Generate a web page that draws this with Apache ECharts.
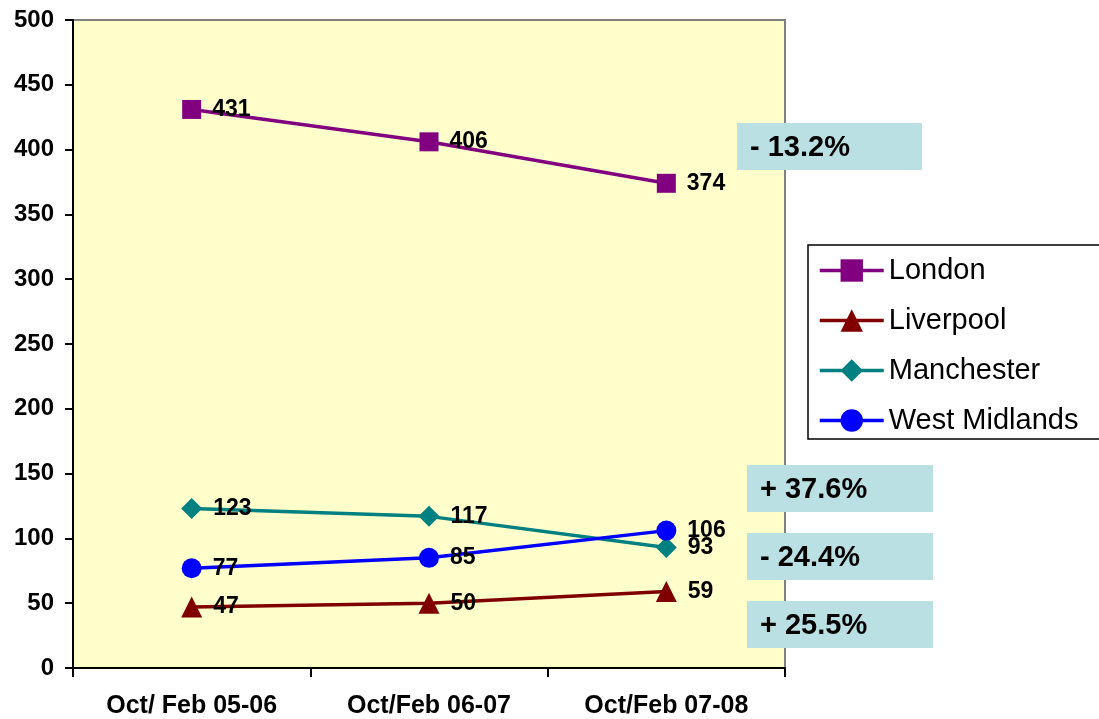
<!DOCTYPE html>
<html><head><meta charset="utf-8">
<script src="https://cdn.jsdelivr.net/npm/echarts@6/dist/echarts.min.js"></script>
<style>html,body{margin:0;padding:0;background:#fff}#c{width:1099px;height:719px}</style>
</head><body><div id="c"></div>
<script>
const categories = ['Oct/ Feb 05-06', 'Oct/Feb 06-07', 'Oct/Feb 07-08'];
const london = [431, 406, 374];
const liverpool = [47, 50, 59];
const manchester = [123, 117, 93];
const westMidlands = [77, 85, 106];
const yTicks = {min: 0, max: 500, interval: 50};
const changeLabels = ['- 13.2%', '+ 37.6%', '- 24.4%', '+ 25.5%'];

const chart = echarts.init(document.getElementById('c'), null, {renderer: 'canvas'});
const FONT = 'Liberation Sans, Arial, sans-serif';
function mk(name, data, color, symbol, size) {
  return {
    name, type: 'line', data, symbol, symbolSize: size,
    lineStyle: {color, width: 3.5}, itemStyle: {color},
    label: {show: true, position: 'right', distance: 11, color: '#000', fontWeight: 'bold', fontSize: 23, fontFamily: FONT},
    emphasis: {disabled: true}, animation: false
  };
}
const boxStyle = {fill: '#BBE0E3'};
function box(x, y, w, h, t) {
  return {type: 'group', left: x, top: y, children: [
    {type: 'rect', shape: {x: 0, y: 0, width: w, height: h}, style: boxStyle},
    {type: 'text', x: 13, y: h / 2 + 1, style: {text: t, fontSize: 29, fontWeight: 'bold', fontFamily: FONT, fill: '#000', verticalAlign: 'middle'}}
  ]};
}
chart.setOption({
  animation: false,
  grid: {left: 73, right: 314, top: 20, bottom: 51, show: true, backgroundColor: '#FFFFCC', borderColor: '#808080', borderWidth: 2},
  xAxis: {type: 'category', data: categories, boundaryGap: true,
    axisLine: {lineStyle: {color: '#000', width: 2}},
    axisTick: {show: true, length: 9, lineStyle: {color: '#000', width: 2}},
    axisLabel: {color: '#000', fontWeight: 'bold', fontSize: 25, fontFamily: FONT, margin: 26},
    splitLine: {show: false}},
  yAxis: {type: 'value', min: yTicks.min, max: yTicks.max, interval: yTicks.interval,
    axisLine: {show: true, lineStyle: {color: '#000', width: 2}},
    axisTick: {show: true, length: 8, lineStyle: {color: '#000', width: 2}},
    axisLabel: {color: '#000', fontWeight: 'bold', fontSize: 24, fontFamily: FONT, margin: 19},
    splitLine: {show: false}},
  legend: {orient: 'vertical', left: 808, top: 245, width: 291,
    borderColor: '#000', borderWidth: 1.5, padding: [11, 40, 4, 10], itemGap: 21,
    itemWidth: 64, itemHeight: 28, lineStyle: {width: 3.5},
    textStyle: {fontSize: 29, fontFamily: FONT, color: '#000'},
    data: ['London', 'Liverpool', 'Manchester', 'West Midlands']},
  series: [
    mk('London', london, '#800080', 'rect', 19),
    mk('Liverpool', liverpool, '#800000', 'triangle', 21),
    mk('Manchester', manchester, '#008080', 'diamond', 21),
    mk('West Midlands', westMidlands, '#0000FF', 'circle', 20)
  ],
  graphic: [
    box(737, 123, 185, 47, changeLabels[0]),
    box(747, 465, 186, 47, changeLabels[1]),
    box(747, 533, 186, 47, changeLabels[2]),
    box(747, 601, 186, 47, changeLabels[3])
  ]
});
</script></body></html>
